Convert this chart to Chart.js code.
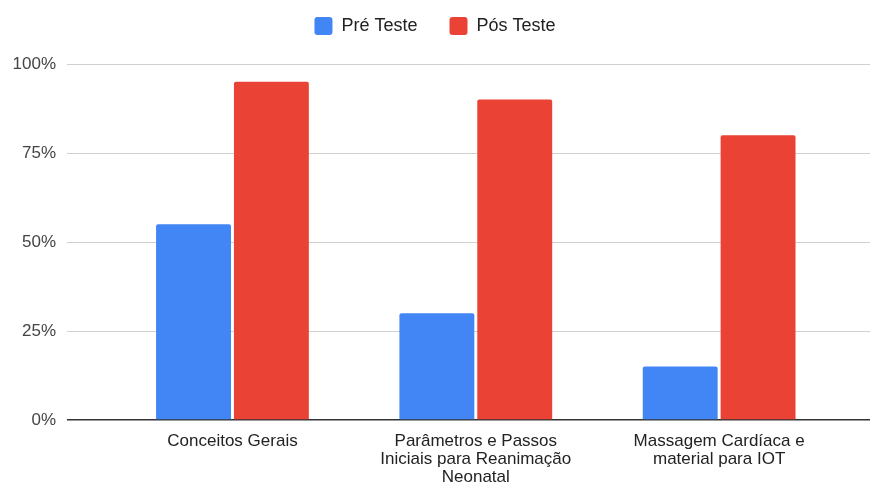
<!DOCTYPE html>
<html>
<head>
<meta charset="utf-8">
<script src="https://cdn.jsdelivr.net/npm/chart.js@4"></script>
<style>
  body { margin: 0; background: #fff; }
  #wrap { width: 870px; height: 483px; }
</style>
</head>
<body>
<div id="wrap"><canvas id="grafico"></canvas></div>
<script>
// categorias (cada uma em linhas, como no eixo)
const categorias = [
    ['Conceitos Gerais'],
    ['Parâmetros e Passos', 'Iniciais para Reanimação', 'Neonatal'],
    ['Massagem Cardíaca e', 'material para IOT'],
];
const preTeste = [55, 30, 15];
const posTeste = [95, 90, 80];
const ticksY = [0, 25, 50, 75, 100];

const fonte = "'Liberation Sans', Arial, sans-serif";

const pontos = (valores) => valores.map((v, i) => ({x: i + 1, y: v}));

const ctx = document.getElementById('grafico').getContext('2d');
new Chart(ctx, {
    type: 'bar',
    data: {
        datasets: [
            {
                label: 'Pré Teste',
                data: pontos(preTeste),
                backgroundColor: '#4285f4',
                borderRadius: 2,
                borderSkipped: 'start',
                categoryPercentage: 0.64,
                barPercentage: 0.962,
            },
            {
                label: 'Pós Teste',
                data: pontos(posTeste),
                backgroundColor: '#ea4335',
                borderRadius: 2,
                borderSkipped: 'start',
                categoryPercentage: 0.64,
                barPercentage: 0.962,
            },
        ],
    },
    options: {
        responsive: true,
        maintainAspectRatio: false,
        animation: false,
        layout: { padding: { top: -15, right: 0, left: 0, bottom: 0 } },
        plugins: {
            tooltip: { enabled: false },
            legend: {
                position: 'top',
                labels: {
                    color: '#222',
                    font: { family: fonte, size: 18 },
                    boxWidth: 18,
                    boxHeight: 18,
                    useBorderRadius: true,
                    borderRadius: 3,
                    padding: 32,
                },
            },
            // espaco entre legenda e grafico
            subtitle: {
                display: true,
                text: '',
                weight: 500,
                font: { size: 10, lineHeight: 1 },
                padding: { top: 9, bottom: 0 },
            },
        },
        scales: {
            x: {
                type: 'linear',
                offset: false,
                min: 0.32,
                max: 3.62,
                grid: { display: false, offset: false },
                border: { display: false },
                afterBuildTicks: (scale) => {
                    scale.ticks = categorias.map((c, i) => ({value: i + 1}));
                },
                afterFit: (scale) => { scale.height = 63; },
                ticks: {
                    autoSkip: false,
                    maxRotation: 0,
                    padding: 4,
                    color: '#222',
                    font: { family: fonte, size: 17, lineHeight: 1.06 },
                    callback: (v) => categorias[Math.round(v) - 1],
                },
            },
            y: {
                min: 0,
                max: 100,
                afterBuildTicks: (scale) => {
                    scale.ticks = ticksY.map(v => ({value: v}));
                },
                afterFit: (scale) => { scale.width = 67; },
                border: { display: false },
                grid: {
                    drawTicks: false,
                    color: (c) => c.tick && c.tick.value === 0 ? '#333' : '#d0d0d0',
                    lineWidth: (c) => c.tick && c.tick.value === 0 ? 1.5 : 1,
                },
                ticks: {
                    padding: 11,
                    color: '#444',
                    font: { family: fonte, size: 17 },
                    callback: (v) => v + '%',
                },
            },
        },
    },
});
</script>
</body>
</html>
